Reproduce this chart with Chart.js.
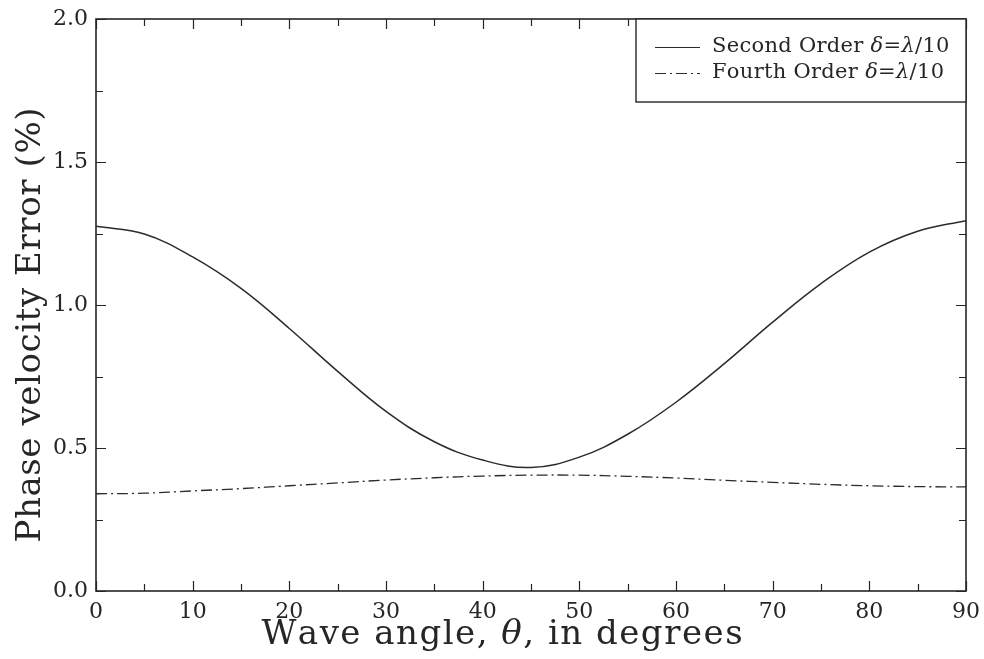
<!DOCTYPE html>
<html>
<head>
<meta charset="utf-8">
<script src="https://cdn.jsdelivr.net/npm/chart.js@4/dist/chart.umd.min.js"></script>
<style>
  html, body { margin: 0; padding: 0; background: #ffffff; }
  #wrap { width: 984px; height: 659px; }
</style>
</head>
<body>
<div id="wrap"><canvas id="c" width="984" height="659"></canvas></div>
<script>
// Wave angle (degrees) and phase-velocity error (%) for the two schemes
const angles = [0, 5, 10, 15, 20, 25, 30, 35, 40, 45, 50, 55, 60, 65, 70, 75, 80, 85, 90];
const secondOrder = [1.275, 1.248, 1.168, 1.058, 0.918, 0.768, 0.628, 0.522, 0.458, 0.432,
                     0.468, 0.548, 0.66, 0.795, 0.94, 1.075, 1.185, 1.258, 1.295];
const fourthOrder = [0.34, 0.342, 0.35, 0.358, 0.368, 0.378, 0.388, 0.396, 0.402, 0.405,
                     0.405, 0.401, 0.395, 0.387, 0.38, 0.373, 0.368, 0.365, 0.364];
const seriesLabels = ['Second Order δ=λ/10', 'Fourth Order δ=λ/10'];
const xTickValues = [0, 10, 20, 30, 40, 50, 60, 70, 80, 90];
const yTickValues = [0, 0.5, 1.0, 1.5, 2.0];
const xMinorStep = 5;
const yMinorStep = 0.25;
const xTitle = 'Wave angle, θ, in degrees';
const yTitle = 'Phase velocity Error (%)';

const SERIF = '"DejaVu Serif", "Liberation Serif", serif';
const INK = '#262626';
const GREEK = 'δλθ';

// Draw a string, setting Greek symbols in italic
function drawRich(ctx, text, x, y, size, spacing) {
  let cx = x;
  for (const ch of text) {
    ctx.font = (GREEK.includes(ch) ? 'italic ' : '') + size + 'px ' + SERIF;
    ctx.fillText(ch, cx, y);
    cx += ctx.measureText(ch).width + (spacing || 0);
  }
  return cx - x;
}
function measureRich(ctx, text, size, spacing) {
  let w = 0;
  for (const ch of text) {
    ctx.font = (GREEK.includes(ch) ? 'italic ' : '') + size + 'px ' + SERIF;
    w += ctx.measureText(ch).width + (spacing || 0);
  }
  return w - (spacing || 0);
}

// Closed frame with inward-pointing major/minor ticks on all four sides
const frameTicks = {
  id: 'frameTicks',
  afterDatasetsDraw(chart) {
    const { ctx, chartArea: a, scales: { x, y } } = chart;
    ctx.save();
    ctx.strokeStyle = INK;
    ctx.lineWidth = 1.2;
    ctx.beginPath();
    for (let v = x.min; v <= x.max + 1e-9; v += xMinorStep) {
      const px = Math.round(x.getPixelForValue(v)) + 0.5;
      const major = xTickValues.some(t => Math.abs(t - v) < 1e-9);
      const len = major ? 10 : 7;
      ctx.moveTo(px, a.bottom); ctx.lineTo(px, a.bottom - len);
      ctx.moveTo(px, a.top); ctx.lineTo(px, a.top + len);
    }
    for (let v = y.min; v <= y.max + 1e-9; v += yMinorStep) {
      const py = Math.round(y.getPixelForValue(v)) + 0.5;
      const major = yTickValues.some(t => Math.abs(t - v) < 1e-9);
      const len = major ? 10 : 7;
      ctx.moveTo(a.left, py); ctx.lineTo(a.left + len, py);
      ctx.moveTo(a.right, py); ctx.lineTo(a.right - len, py);
    }
    ctx.stroke();
    ctx.lineWidth = 1.6;
    ctx.strokeRect(a.left, a.top, a.right - a.left, a.bottom - a.top);
    ctx.restore();
  }
};

// Boxed legend in the upper right corner of the plot
const boxedLegend = {
  id: 'boxedLegend',
  afterDraw(chart) {
    const { ctx, chartArea: a } = chart;
    const size = 21;
    const w = 330, h = 83;
    const left = a.right - w, top = a.top;
    ctx.save();
    ctx.fillStyle = '#ffffff';
    ctx.fillRect(left, top, w, h);
    ctx.strokeStyle = INK;
    ctx.lineWidth = 1.4;
    ctx.strokeRect(left, top, w, h);
    chart.data.datasets.forEach((ds, i) => {
      const rowY = top + 28 + i * 26;
      ctx.beginPath();
      ctx.setLineDash(ds.borderDash || []);
      ctx.lineWidth = 1.2;
      ctx.strokeStyle = ds.borderColor;
      ctx.moveTo(left + 19, rowY + 0.5);
      ctx.lineTo(left + 64, rowY + 0.5);
      ctx.stroke();
      ctx.setLineDash([]);
      ctx.fillStyle = INK;
      ctx.textBaseline = 'middle';
      ctx.textAlign = 'left';
      drawRich(ctx, ds.label, left + 76, rowY, size, 0.3);
    });
    ctx.restore();
  }
};

// Axis titles: horizontal one under the tick labels, vertical one at the left edge
const axisTitles = {
  id: 'axisTitles',
  afterDraw(chart) {
    const { ctx, chartArea: a } = chart;
    ctx.save();
    ctx.fillStyle = INK;
    ctx.textBaseline = 'middle';
    ctx.textAlign = 'left';

    const xs = 34, xsp = 1.5;
    const xw = measureRich(ctx, xTitle, xs, xsp);
    drawRich(ctx, xTitle, (a.left + a.right) / 2 - 29 - xw / 2, 635, xs, xsp);

    const ys = 34, ysp = 0.6;
    const yw = measureRich(ctx, yTitle, ys, ysp);
    ctx.translate(31, (a.top + a.bottom) / 2 + 20);
    ctx.rotate(-Math.PI / 2);
    drawRich(ctx, yTitle, -yw / 2, 0, ys, ysp);
    ctx.restore();
  }
};

new Chart(document.getElementById('c'), {
  type: 'line',
  data: {
    datasets: [
      {
        label: seriesLabels[0],
        data: angles.map((a, i) => ({ x: a, y: secondOrder[i] })),
        borderColor: '#2b2b2b',
        borderWidth: 1.5,
        pointRadius: 0,
        tension: 0.4,
        fill: false
      },
      {
        label: seriesLabels[1],
        data: angles.map((a, i) => ({ x: a, y: fourthOrder[i] })),
        borderColor: '#2b2b2b',
        borderWidth: 1.3,
        borderDash: [11, 4, 2, 4],
        pointRadius: 0,
        tension: 0.4,
        fill: false
      }
    ]
  },
  options: {
    responsive: false,
    animation: false,
    devicePixelRatio: 1,
    layout: { padding: { top: 19, right: 18, left: 0, bottom: 0 } },
    plugins: { legend: { display: false }, tooltip: { enabled: false } },
    scales: {
      x: {
        type: 'linear',
        min: 0, max: 90,
        afterFit(scale) { scale.height = 68; scale.paddingLeft = 0; scale.paddingRight = 0; },
        afterBuildTicks(scale) { scale.ticks = xTickValues.map(v => ({ value: v })); },
        grid: { display: false, drawTicks: false },
        border: { display: false },
        ticks: {
          padding: 8,
          color: INK,
          font: { family: SERIF, size: 22 },
          maxRotation: 0,
          callback: v => String(v)
        },
        title: { display: false }
      },
      y: {
        type: 'linear',
        min: 0, max: 2,
        afterFit(scale) { scale.width = 96; scale.paddingTop = 0; scale.paddingBottom = 0; },
        afterBuildTicks(scale) { scale.ticks = yTickValues.map(v => ({ value: v })); },
        grid: { display: false, drawTicks: false },
        border: { display: false },
        ticks: {
          padding: 8,
          color: INK,
          font: { family: SERIF, size: 22 },
          callback: v => Number(v).toFixed(1)
        },
        title: { display: false }
      }
    }
  },
  plugins: [frameTicks, boxedLegend, axisTitles]
});
</script>
</body>
</html>
